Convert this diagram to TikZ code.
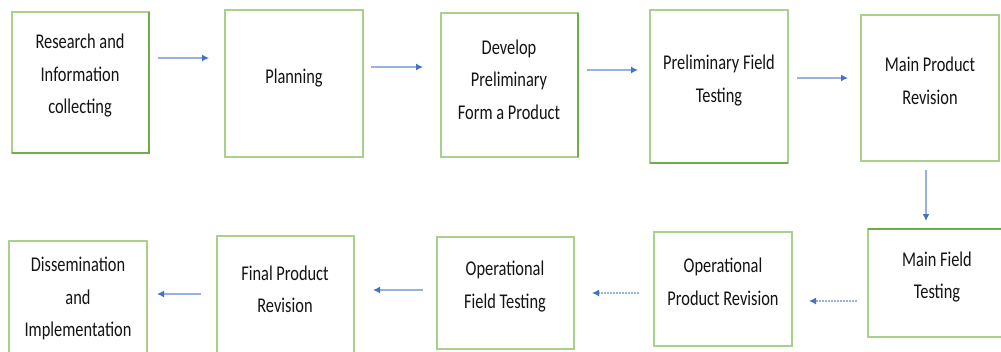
\documentclass[tikz,border=0pt]{standalone}
\usepackage{fontspec}
\setmainfont[FakeStretch=0.78]{Carlito}
\usetikzlibrary{arrows.meta,calc}
\definecolor{boxgreen}{RGB}{169,209,142}
\definecolor{darkgreen}{RGB}{112,173,71}
\definecolor{arrline}{RGB}{150,178,226}
\definecolor{arrtip}{RGB}{68,114,196}
\definecolor{txt}{RGB}{20,20,20}
\tikzset{
  stepbox/.style={draw=boxgreen, line width=1.6pt, rectangle, inner sep=0pt, outer sep=0pt, anchor=north west},
  darkedge/.style={draw=darkgreen, line width=2pt},
  lbl/.style={align=center, text=txt, inner sep=0pt, font=\fontsize{21}{32.5}\selectfont},
  arr/.style={draw=arrline, line width=1.3pt, -{Latex[color=arrtip,length=7pt,width=7pt]}},
  arrdash/.style={arr, dash pattern=on 2pt off 1pt}
}
\begin{document}
\begin{tikzpicture}[x=1pt,y=-1pt]
\useasboundingbox (0,0) rectangle (1001,351);
\fill[white] (0,0) rectangle (1001,351);
\clip (0,0) rectangle (1001,351);
% top row
\node[stepbox, minimum width=137pt, minimum height=141pt] (b1) at (12,12) {};
\node[stepbox, minimum width=138pt, minimum height=147pt] (b2) at (225,10) {};
\node[stepbox, minimum width=137pt, minimum height=144pt] (b3) at (441,13) {};
\node[stepbox, minimum width=138pt, minimum height=153pt] (b4) at (650,10) {};
\node[stepbox, minimum width=138pt, minimum height=146pt] (b5) at (861,15) {};
% bottom row
\node[stepbox, minimum width=140pt, minimum height=108pt] (b6) at (868,229) {};
\node[stepbox, minimum width=138pt, minimum height=114pt] (b7) at (654,232) {};
\node[stepbox, minimum width=137pt, minimum height=112pt] (b8) at (437,237) {};
\node[stepbox, minimum width=137pt, minimum height=144pt] (b9) at (217,236) {};
\node[stepbox, minimum width=138pt, minimum height=140pt] (b10) at (9,241) {};
% darker edges
\draw[darkedge] (b1.north east) -- (b1.south east) -- (b1.south west);
\draw[darkedge] (b3.north east) -- (b3.south east);
\draw[darkedge] (b4.south east) -- (b4.south west);
\draw[darkedge] (b6.north west) -- (b6.north east);
% labels
\node[lbl] (t1) at (80,76) {Research and\\Information\\collecting};
\node[lbl] (t2) at (294,78) {Planning};
\node[lbl] (t3) at (509,79.5) {Develop\\Preliminary\\Form a Product};
\node[lbl] (t4) at (719,80.5) {Preliminary Field\\Testing};
\node[lbl] (t5) at (930,81) {Main Product\\Revision};
\node[lbl] (t6) at (937,277) {Main Field\\Testing};
\node[lbl] (t7) at (723,282) {Operational\\Product Revision};
\node[lbl] (t8) at (505,286.5) {Operational\\Field Testing};
\node[lbl] (t9) at (285,289.5) {Final Product\\Revision};
\node[lbl] (t10) at (78,298.5) {Dissemination\\and\\Implementation};
% connectors
\draw[arr] ($(b1.north east)+(9,46)$) -- ($(b2.north west)+(-16,48)$);
\draw[arr] ($(b2.north east)+(8,57)$) -- ($(b3.north west)+(-18,54)$);
\draw[arr] ($(b3.north east)+(9,57)$) -- ($(b4.north west)+(-12,60)$);
\draw[arr] ($(b4.north east)+(9,68)$) -- ($(b5.north west)+(-13,63)$);
\draw[arr] ($(b5.south west)+(65,9)$) -- ($(b6.north west)+(58,-8)$);
\draw[arrdash] ($(b6.south west)+(-11,-36)$) -- ($(b7.south east)+(17,-45)$);
\draw[arrdash] ($(b7.south west)+(-15,-53)$) -- ($(b8.north east)+(18,56)$);
\draw[arr] ($(b8.north west)+(-14,53)$) -- ($(b9.north east)+(19,54)$);
\draw[arr] ($(b9.north west)+(-16,58)$) -- ($(b10.north east)+(10,53)$);
\end{tikzpicture}
\end{document}
